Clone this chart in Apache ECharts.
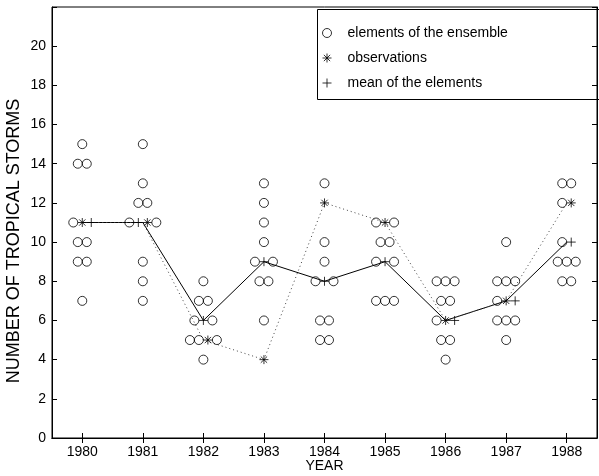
<!DOCTYPE html>
<html>
<head>
<meta charset="utf-8">
<script src="https://cdn.jsdelivr.net/npm/echarts@6/dist/echarts.min.js"></script>
<style>
html,body{margin:0;padding:0;background:#fff;}
#chart{width:599px;height:476px;}
</style>
</head>
<body>
<div id="chart"></div>
<script>
// ---- data ----
const years = ['1980','1981','1982','1983','1984','1985','1986','1987','1988'];
const members1980 = [15,14,14,11,10,10,9,9,7];
const members1981 = [15,13,12,12,11,11,9,8,7];
const members1982 = [8,7,7,6,6,5,5,5,4];
const members1983 = [13,12,11,10,9,9,8,8,6];
const members1984 = [13,10,9,8,8,6,6,5,5];
const members1985 = [11,11,10,10,9,9,7,7,7];
const members1986 = [8,8,8,7,7,6,5,5,4];
const members1987 = [10,8,8,8,7,6,6,6,5];
const members1988 = [13,13,12,10,9,9,9,8,8];
const observations = [11,11,5,4,12,11,6,7,12];
const ensembleMean = [11,11,6,9,8,9,6,7,10];
const yTickLabels = ['0','2','4','6','8','10','12','14','16','18','20'];

const ensemble = [members1980,members1981,members1982,members1983,members1984,
                  members1985,members1986,members1987,members1988];

const NAME_ENS = 'elements of the ensemble';
const NAME_OBS = 'observations';
const NAME_MEAN = 'mean of the elements';
const FONT = '"Liberation Sans", Arial, Helvetica, sans-serif';
const SLOT = 9; // px spacing between markers sharing one value

// side-by-side placement of markers that share the same value in a year
const circlePts = [], obsPts = [], meanPts = [];
ensemble.forEach((members, i) => {
  const levels = new Set(members.concat([observations[i], ensembleMean[i]]));
  levels.forEach(v => {
    const c = members.filter(m => m === v).length;
    const hasObs = observations[i] === v, hasMean = ensembleMean[i] === v;
    const specials = [];
    if (c % 2 === 0) { if (hasMean) specials.push('m'); if (hasObs) specials.push('o'); }
    else { if (hasObs) specials.push('o'); if (hasMean) specials.push('m'); }
    const left = Math.ceil(c / 2);
    const items = [];
    for (let k = 0; k < left; k++) items.push('c');
    items.push(...specials);
    for (let k = 0; k < c - left; k++) items.push('c');
    const n = items.length;
    items.forEach((t, k) => {
      const pt = { value: [i, v], symbolOffset: [(k - (n - 1) / 2) * SLOT, 0] };
      if (t === 'c') circlePts.push(pt);
      else if (t === 'o') obsPts.push(pt);
      else meanPts.push(pt);
    });
  });
});

const circlePath = 'path://M10,5 A5,5 0 1 1 0,5 A5,5 0 1 1 10,5 Z';
const plusPath = 'path://M5,0 L5,10 M0,5 L10,5';
const starPath = 'path://M5,0 L5,10 M0,5 L10,5 M1.5,1.5 L8.5,8.5 M8.5,1.5 L1.5,8.5';

const chart = echarts.init(document.getElementById('chart'), null, {renderer: 'canvas'});
const axisCommon = {
  axisLine: {show: true, lineStyle: {color: '#000', width: 1}},
  splitLine: {show: false}
};
chart.setOption({
  animation: false,
  backgroundColor: '#fff',
  textStyle: {fontFamily: FONT, color: '#000'},
  grid: {left: 52, right: 2, top: 7, bottom: 38, containLabel: false, outerBoundsMode: 'none',
         show: true, borderColor: '#000', borderWidth: 1, backgroundColor: 'transparent'},
  xAxis: [
    Object.assign({
      type: 'category', data: years, position: 'bottom', boundaryGap: true,
      axisTick: {show: true, inside: true, alignWithLabel: true, length: 5, lineStyle: {color: '#000'}},
      axisLabel: {color: '#000', fontSize: 14, fontFamily: FONT, margin: 7},
      name: 'YEAR', nameLocation: 'middle', nameGap: 21, nameMoveOverlap: false,
      nameTextStyle: {color: '#000', fontSize: 14, fontFamily: FONT}
    }, axisCommon),
    Object.assign({
      type: 'category', data: years, position: 'top', boundaryGap: true,
      axisTick: {show: true, inside: true, alignWithLabel: true, length: 5, lineStyle: {color: '#000'}},
      axisLabel: {show: false}
    }, axisCommon)
  ],
  yAxis: [
    Object.assign({
      type: 'value', min: 0, max: 22, interval: 2, position: 'left',
      axisTick: {show: true, inside: true, length: 5, lineStyle: {color: '#000'}},
      axisLabel: {color: '#000', fontSize: 14, fontFamily: FONT, margin: 6,
        formatter: v => { const s = String(v); return yTickLabels.indexOf(s) >= 0 ? s : ''; }}
    }, axisCommon),
    Object.assign({
      type: 'value', min: 0, max: 22, interval: 2, position: 'right',
      axisTick: {show: true, inside: true, length: 5, lineStyle: {color: '#000'}},
      axisLabel: {show: false}
    }, axisCommon)
  ],
  legend: {
    data: [NAME_ENS, NAME_OBS, NAME_MEAN],
    orient: 'vertical', left: 315, top: 21,
    itemWidth: 9, itemHeight: 9, itemGap: 11,
    selectedMode: false,
    itemStyle: {borderWidth: 1},
    textStyle: {fontSize: 14, color: '#000', fontFamily: FONT, padding: [0, 0, 0, 11]}
  },
  graphic: [
    {
      type: 'rect', left: 315, top: 7, z: 100,
      shape: {width: 282, height: 90},
      style: {fill: 'none', stroke: '#000', lineWidth: 1}
    },
    {
      type: 'text', x: 14, y: 241, rotation: Math.PI / 2, z: 100,
      style: {text: 'NUMBER OF TROPICAL STORMS', fill: '#000',
              font: '18px ' + FONT, textAlign: 'center', textVerticalAlign: 'middle'}
    }
  ],
  series: [
    {
      name: 'meanLine', type: 'line', data: ensembleMean.map((v, i) => [i, v]),
      symbol: 'none', lineStyle: {color: '#000', width: 1}, z: 2, silent: true
    },
    {
      name: 'obsLine', type: 'line', data: observations.map((v, i) => [i, v]),
      symbol: 'none', lineStyle: {color: '#444', width: 1, type: [1, 3]}, z: 2, silent: true
    },
    {
      name: NAME_ENS, type: 'scatter', data: circlePts, symbol: circlePath, symbolSize: 9, symbolKeepAspect: true,
      itemStyle: {color: 'none', borderColor: '#000', borderWidth: 1}, z: 3
    },
    {
      name: NAME_OBS, type: 'scatter', data: obsPts, symbol: starPath, symbolSize: 9, symbolKeepAspect: true,
      itemStyle: {color: 'none', borderColor: '#000', borderWidth: 1}, z: 4
    },
    {
      name: NAME_MEAN, type: 'scatter', data: meanPts, symbol: plusPath, symbolSize: 9, symbolKeepAspect: true,
      itemStyle: {color: 'none', borderColor: '#000', borderWidth: 1}, z: 4
    }
  ]
});
</script>
</body>
</html>
